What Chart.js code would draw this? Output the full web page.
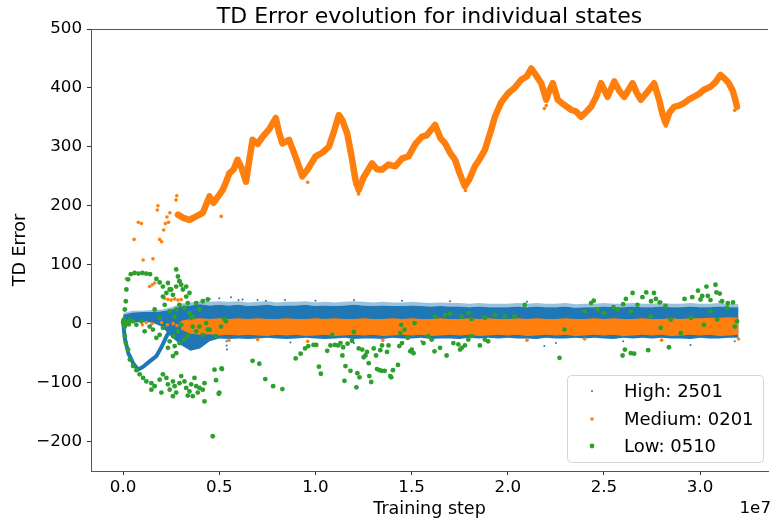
<!DOCTYPE html>
<html><head><meta charset="utf-8">
<script src="https://cdn.jsdelivr.net/npm/chart.js@4/dist/chart.umd.min.js"></script>
<style>html,body{margin:0;padding:0;background:#fff;}#wrap{width:772px;height:521px;position:relative;}</style>
</head><body><div id="wrap"><canvas id="c" width="772" height="521"></canvas></div>
<script>
// ---------- text ----------
const chartTitle = "TD Error evolution for individual states";
const xLabel = "Training step";
const yLabel = "TD Error";
const xOffsetText = "1e7";
const seriesNames = ["High: 2501", "Medium: 0201", "Low: 0510"];
const xTicks = [0.0, 0.5, 1.0, 1.5, 2.0, 2.5, 3.0];
const yTicks = [-200, -100, 0, 100, 200, 300, 400, 500];

// ---------- High: 2501 (blue) dense band around 0 : x in units of 1e7 ----------
const bandX = [0,0.05,0.1,0.15,0.2,0.25,0.3,0.35,0.4,0.45,0.5,0.55,0.6,0.65,0.7,0.75,0.8,0.85,0.9,0.95,
  1.0,1.05,1.1,1.15,1.2,1.25,1.3,1.35,1.4,1.45,1.5,1.55,1.6,1.65,1.7,1.75,1.8,1.85,1.9,1.95,
  2.0,2.05,2.1,2.15,2.2,2.25,2.3,2.35,2.4,2.45,2.5,2.55,2.6,2.65,2.7,2.75,2.8,2.85,2.9,2.95,
  3.0,3.05,3.1,3.15,3.2];
const highFringe = [18,22,22,23,24,28,34,36,38,37,38,37,38,36,37,38,36,37,37,38,
  36,37,36,37,38,37,36,37,36,36,37,36,35,36,35,35,34,35,34,34,
  34,35,34,35,34,34,35,33,34,34,35,34,34,35,34,34,35,34,34,35,
  34,34,35,34,33];
const highTop = [15,19,20,20,21,24,29,31,33,31,32,31,32,30,31,32,30,31,31,32,
  30,31,30,31,32,31,30,31,30,30,31,30,29,30,29,29,28,29,28,28,
  28,29,28,29,28,28,29,27,28,28,29,28,28,29,28,28,29,28,28,29,
  28,28,29,28,28];
const highBottom = [-2,2,3,2,-5,-22,-36,-46,-42,-30,-25,-26,-25,-26,-25,-24,-25,-26,-25,-24,
  -25,-26,-25,-24,-26,-25,-25,-26,-24,-25,-25,-24,-26,-25,-25,-26,-24,-25,-24,-25,
  -24,-25,-25,-26,-24,-25,-25,-24,-25,-24,-25,-26,-24,-25,-24,-25,-24,-25,-25,-26,
  -24,-25,-25,-24,-24];
const highLoop = [[0,5],[0.004,-10],[0.01,-27],[0.027,-50],[0.052,-67],[0.078,-78],[0.104,-73],
  [0.138,-64],[0.173,-55],[0.199,-40],[0.225,-22],[0.25,-8]];
const highStray = [[0.42,40],[0.45,42],[0.5,43],[0.561,45],[0.6,40],[0.621,41],[0.699,40],[0.742,39],
  [0.842,40],[1.0,39],[1.2,40],[1.45,39],[1.7,38],[2.1,37],[2.45,38],[2.8,37],[3.1,37],
  [0.538,-30],[0.538,-37],[0.54,-44],[0.87,-32],[1.2,-33],[1.55,-30],[1.9,-31],[2.19,-38],
  [2.25,-33],[2.6,-30],[2.95,-36],[3.18,-30]];

// ---------- Medium: 0201 (orange) ----------
const medX = [0.3,0.35,0.4,0.45,0.5,0.55,0.6,0.65,0.7,0.75,0.8,0.85,0.9,0.95,
  1.0,1.05,1.1,1.15,1.2,1.25,1.3,1.35,1.4,1.45,1.5,1.55,1.6,1.65,1.7,1.75,1.8,1.85,1.9,1.95,
  2.0,2.05,2.1,2.15,2.2,2.25,2.3,2.35,2.4,2.45,2.5,2.55,2.6,2.65,2.7,2.75,2.8,2.85,2.9,2.95,
  3.0,3.05,3.1,3.15,3.2];
const medTop = [5,8,9,8,9,8,9,8,9,8,8,9,8,8,
  9,8,9,8,8,9,8,8,9,8,9,8,8,9,8,8,9,8,9,8,
  8,9,8,9,8,8,9,8,8,9,8,9,8,8,9,8,8,9,8,9,
  9,10,10,11,10];
const medBottom = [-10,-17,-19,-18,-20,-19,-20,-19,-20,-21,-19,-20,-19,-21,
  -20,-19,-21,-20,-19,-20,-19,-21,-20,-19,-20,-19,-21,-20,-19,-20,-19,-21,-20,-19,
  -20,-19,-21,-20,-19,-20,-19,-21,-20,-19,-20,-19,-21,-20,-19,-20,-19,-21,-20,-19,
  -20,-19,-21,-20,-19];
const medTrail = [[0.285,185],[0.31,180],[0.345,176],[0.38,182],[0.414,188],[0.449,216],[0.47,205],
  [0.518,227],[0.535,240],[0.552,255],[0.575,262],[0.595,278],[0.615,265],[0.639,241],[0.655,275],
  [0.673,312],[0.7,305],[0.725,317],[0.76,330],[0.794,349],[0.81,325],[0.828,306],[0.863,312],
  [0.9,280],[0.932,250],[0.96,262],[1.001,284],[1.035,290],[1.07,300],[1.1,330],[1.122,354],
  [1.14,345],[1.165,323],[1.19,280],[1.208,244],[1.225,227],[1.25,248],[1.294,272],[1.32,262],
  [1.346,261],[1.38,270],[1.415,267],[1.45,280],[1.484,284],[1.52,305],[1.553,317],[1.58,320],
  [1.622,337],[1.65,315],[1.674,306],[1.7,290],[1.726,278],[1.75,255],[1.777,233],[1.8,245],
  [1.829,267],[1.855,280],[1.881,295],[1.91,325],[1.933,351],[1.965,375],[2.002,391],[2.035,400],
  [2.07,414],[2.1,420],[2.122,433],[2.15,420],[2.174,408],[2.2,380],[2.215,395],[2.234,408],
  [2.26,380],[2.29,372],[2.329,363],[2.355,360],[2.381,351],[2.41,360],[2.433,368],[2.46,385],
  [2.485,408],[2.519,385],[2.554,411],[2.58,395],[2.606,385],[2.649,408],[2.67,392],[2.692,380],
  [2.73,395],[2.761,408],[2.787,380],[2.805,355],[2.821,340],[2.84,358],[2.865,368],[2.89,370],
  [2.916,374],[2.94,380],[2.968,385],[2.995,390],[3.02,397],[3.054,402],[3.08,410],[3.106,422],
  [3.13,415],[3.149,408],[3.17,395],[3.183,380],[3.192,368]];
const medStray = [[0.017,76],[0.104,108],[0.155,110],[0.138,63],[0.152,66],[0.164,69],[0.216,43],
  [0.233,41],[0.25,40],[0.268,42],[0.285,40],[0.302,41],[0.057,143],[0.079,172],[0.095,170],
  [0.181,200],[0.178,193],[0.19,143],[0.2,139],[0.211,159],[0.22,170],[0.228,181],[0.236,172],
  [0.243,188],[0.279,217],[0.275,210],[0.1,-2],[0.15,0],[0.23,-2],[0.26,0],[0.28,-3],[0.2,2],
  [0.12,2],[0.3,0],[0.55,-28],[0.7,-27],[0.96,-30],[1.35,-28],[1.6,-27],[2.1,-28],[2.4,-26],
  [2.8,-28],[3.2,-26],[0.51,182],[0.96,240],[1.205,236],[1.78,226],[2.2,370],[2.19,365],
  [3.18,362],[2.822,335],[1.224,220]];

// ---------- Low: 0510 (green) ----------
const lowPoints = [
  [0.0,2],[0.01,0],[0.02,3],[0.03,-1],[0.004,7],[0.009,24],[0.014,38],[0.017,58],[0.026,75],
  [0.04,84],[0.06,86],[0.08,85],[0.1,86],[0.12,85],[0.14,84],[0.173,76],[0.19,70],[0.207,63],[0.242,58],
  [0.009,-5],[0.009,-21],[0.014,-33],[0.026,-44],[0.035,-61],[0.052,-72],[0.069,-79],[0.086,-86],
  [0.104,-92],[0.121,-98],[0.147,-101],[0.164,-106],[0.19,-95],[0.207,-86],[0.225,-92],[0.233,-103],
  [0.242,-112],[0.259,-98],[0.268,-106],[0.276,-117],[0.293,-101],[0.302,-89],[0.319,-98],[0.328,-109],
  [0.345,-115],[0.354,-103],[0.371,-92],[0.38,-106],[0.388,-117],[0.397,-109],[0.414,-112],[0.423,-101],
  [0.362,-123],[0.336,-122],[0.259,-123],[0.199,-117],[0.147,-112],[0.423,-132],[0.466,-191],
  [0.475,-78],[0.483,-96],[0.497,-119],[0.512,-76],
  [0.276,92],[0.285,80],[0.293,72],[0.276,63],[0.302,66],[0.311,58],[0.25,58],[0.233,69],[0.225,52],
  [0.207,46],[0.259,49],[0.328,46],[0.336,35],[0.319,27],[0.293,32],[0.276,24],[0.268,12],[0.242,21],
  [0.345,18],[0.354,10],[0.362,-5],[0.302,-2],[0.285,-13],[0.259,-21],[0.242,-30],[0.233,-41],
  [0.268,-38],[0.293,-33],[0.319,-27],[0.336,-21],[0.276,-50],[0.259,-55],[0.38,-13],[0.397,-5],
  [0.414,-19],[0.449,-10],[0.483,-21],[0.509,-5],[0.535,4],[0.207,-7],[0.19,-19],[0.173,-24],
  [0.155,-10],[0.138,-5],[0.112,-13],[0.095,4],[0.069,-2],[0.052,4],[0.035,7],[0.19,10],[0.164,24],
  [0.216,32],[0.328,63],[0.345,52],[0.38,35],[0.414,38],[0.44,41],[0.397,24],[0.362,12],[0.293,72],
  [0.432,1],[0.44,-10],[0.526,8],
  [0.514,-77],[0.50,-117],[0.673,-63],[0.708,-68],[0.739,-94],[0.78,-106],[0.828,-111],[0.897,-59],
  [0.923,-51],[0.946,-42],[0.963,-38],[0.99,-36],[1.004,-36],[1.018,-73],[1.028,-85],[1.061,-46],
  [1.078,-37],[1.101,-36],[1.118,-37],[1.13,-33],[1.144,-40],[1.14,-54],[1.156,-72],[1.151,-97],
  [1.167,-34],[1.182,-80],[1.19,-29],[1.2,-14],[1.213,-108],[1.218,-84],[1.229,-91],[1.225,-42],
  [1.243,-44],[1.251,-57],[1.26,-54],[1.268,-48],[1.277,-67],[1.28,-89],[1.29,-99],[1.303,-42],
  [1.315,-54],[1.32,-77],[1.333,-79],[1.345,-80],[1.36,-80],[1.337,-45],[1.346,-37],[1.372,-48],
  [1.38,-37],[1.389,-89],[1.394,-91],[1.403,-79],[1.429,-70],[1.436,-38],[1.45,-33],[1.441,-16],
  [1.463,-10],[1.446,-2],[1.48,-24],[1.493,-47],[1.51,-50],[1.501,-44],[1.515,1],[1.087,-19],
  [1.562,-33],[1.619,-47],[1.648,-41],[1.682,-54],[1.605,-27],[1.587,-21],[1.717,-33],[1.743,-35],
  [1.761,-41],[1.777,-37],[1.752,-44],[1.795,-27],[1.812,-21],[1.855,-37],[1.881,-27],[1.898,-30],
  [1.622,12],[1.674,15],[1.7,17],[1.76,12],[1.795,18],[1.812,8],[1.881,10],[1.933,15],[1.985,12],
  [2.036,12],[2.088,32],[2.295,-10],[2.399,21],[2.467,24],[2.502,18],[2.571,24],[2.64,21],[2.674,32],
  [2.743,12],[2.795,-7],[2.847,7],[2.899,-16],[2.952,10],[3.02,-2],[3.054,21],[3.089,7],[3.14,27],
  [3.18,-5],[3.192,4],[2.269,-58],[2.433,35],[2.447,39],[2.55,28],[2.6,33],[2.649,52],[2.614,42],
  [2.7,45],[2.72,53],[2.745,38],[2.76,52],[2.77,42],[2.79,36],[2.82,30],
  [2.609,-44],[2.597,-54],[2.64,-50],[2.657,-51],[2.73,-45],[2.838,-40],
  [2.919,42],[2.959,45],[2.989,56],[3.002,41],[3.011,47],[3.033,63],[3.04,47],[3.054,40],[3.08,66],
  [3.085,53],[3.102,51],[3.114,38],[3.144,35],[3.171,36]];

// ---------- chart ----------
const BLUE = '#1f77b4', ORANGE = '#ff7f0e', GREEN = '#2ca02c';
const FONT = "'DejaVu Sans', 'Liberation Sans', sans-serif";
const pts = (xs, ys) => xs.map((x, i) => ({x: x, y: ys[i]}));
const pairPts = arr => arr.map(p => ({x: p[0], y: p[1]}));

const fillDs = (data, color, fill, order) => ({data, fill, backgroundColor: color, borderWidth: 0,
  pointRadius: 0, showLine: true, order});

const decorations = {
  id: 'decorations',
  afterDraw(chart) {
    const ctx = chart.ctx, a = chart.chartArea;
    ctx.save();
    ctx.strokeStyle = '#555'; ctx.lineWidth = 1;
    ctx.beginPath(); ctx.moveTo(a.left, 29.5); ctx.lineTo(a.right, 29.5); ctx.stroke();
    ctx.fillStyle = '#000';
    ctx.font = '22px ' + FONT; ctx.textAlign = 'center'; ctx.textBaseline = 'alphabetic';
    ctx.fillText(chartTitle, (a.left + a.right) / 2, 23);
    ctx.font = '17.5px ' + FONT;
    ctx.fillText(xLabel, (a.left + a.right) / 2, 514);
    ctx.font = '16.7px ' + FONT; ctx.textAlign = 'right';
    ctx.fillText(xOffsetText, 771, 513);
    ctx.save(); ctx.translate(25, (a.top + a.bottom) / 2); ctx.rotate(-Math.PI / 2);
    ctx.font = '17.5px ' + FONT; ctx.textAlign = 'center';
    ctx.fillText(yLabel, 0, 0); ctx.restore();
    const lx = 567.5, ly = 375.5, lw = 196, lh = 87, r = 4;
    ctx.beginPath();
    ctx.moveTo(lx + r, ly); ctx.lineTo(lx + lw - r, ly); ctx.quadraticCurveTo(lx + lw, ly, lx + lw, ly + r);
    ctx.lineTo(lx + lw, ly + lh - r); ctx.quadraticCurveTo(lx + lw, ly + lh, lx + lw - r, ly + lh);
    ctx.lineTo(lx + r, ly + lh); ctx.quadraticCurveTo(lx, ly + lh, lx, ly + lh - r);
    ctx.lineTo(lx, ly + r); ctx.quadraticCurveTo(lx, ly, lx + r, ly); ctx.closePath();
    ctx.fillStyle = 'rgba(255,255,255,0.8)'; ctx.fill();
    ctx.strokeStyle = '#d6d6d6'; ctx.stroke();
    const colors = [BLUE, ORANGE, GREEN], radii = [1.0, 1.8, 2.4], rows = [391, 419, 446], base = [396.7, 425, 452.3];
    ctx.font = '18px ' + FONT; ctx.textAlign = 'left'; ctx.textBaseline = 'alphabetic';
    for (let i = 0; i < 3; i++) {
      ctx.fillStyle = colors[i];
      ctx.beginPath(); ctx.arc(592, rows[i], radii[i], 0, Math.PI * 2); ctx.fill();
      ctx.fillStyle = '#000';
      ctx.fillText(seriesNames[i], 624, base[i]);
    }
    ctx.restore();
  }
};

new Chart(document.getElementById('c'), {
  type: 'line',
  data: {
    datasets: [
      fillDs(pts(bandX, highFringe), 'rgba(31,119,180,0.45)', '+1', 6),
      fillDs(pts(bandX, highTop), BLUE, '+1', 6),
      fillDs(pts(bandX, highBottom), BLUE, false, 6),
      {data: pairPts(highLoop), borderColor: BLUE, borderWidth: 4, pointRadius: 0, fill: false, order: 6,
       borderJoinStyle: 'round', borderCapStyle: 'round'},
      {data: pairPts(highStray), showLine: false, pointRadius: 1, pointBorderWidth: 0, backgroundColor: BLUE, order: 6},
      fillDs(pts(medX, medTop), ORANGE, '+1', 4),
      fillDs(pts(medX, medBottom), ORANGE, false, 4),
      {data: pairPts(medTrail), borderColor: ORANGE, borderWidth: 6.5, pointRadius: 0, fill: false, order: 4,
       borderJoinStyle: 'round', borderCapStyle: 'round'},
      {data: pairPts(medStray), showLine: false, pointRadius: 1.8, pointBorderWidth: 0, backgroundColor: ORANGE, order: 4},
      {data: pairPts(lowPoints), showLine: false, pointRadius: 2.4, pointBorderWidth: 0, backgroundColor: GREEN, order: 1}
    ]
  },
  options: {
    responsive: false, animation: false, devicePixelRatio: 1,
    layout: {padding: {top: 29, right: 0, bottom: 0, left: 0}},
    plugins: {legend: {display: false}, tooltip: {enabled: false}, title: {display: false}},
    elements: {line: {tension: 0}},
    scales: {
      x: {
        type: 'linear', min: -0.167, max: 3.353,
        afterFit: s => { s.height = 50; },
        afterBuildTicks: s => { s.ticks = xTicks.map(v => ({value: v})); },
        ticks: {callback: v => Number(v).toFixed(1), font: {family: FONT, size: 16.7}, color: '#000',
                padding: 3, maxRotation: 0, autoSkip: false},
        grid: {display: true, drawOnChartArea: false, drawTicks: true, tickLength: 4, color: '#333'},
        border: {display: true, color: '#555', width: 1}
      },
      y: {
        type: 'linear', min: -250, max: 500,
        afterFit: s => { s.width = 91; },
        afterBuildTicks: s => { s.ticks = yTicks.map(v => ({value: v})); },
        ticks: {callback: v => (v < 0 ? '\u2212' + Math.abs(v) : String(v)), font: {family: FONT, size: 16.7},
                color: '#000', padding: 5, autoSkip: false},
        grid: {display: true, drawOnChartArea: false, drawTicks: true, tickLength: 4, color: '#333'},
        border: {display: true, color: '#555', width: 1}
      }
    }
  },
  plugins: [decorations]
});
</script></body></html>
